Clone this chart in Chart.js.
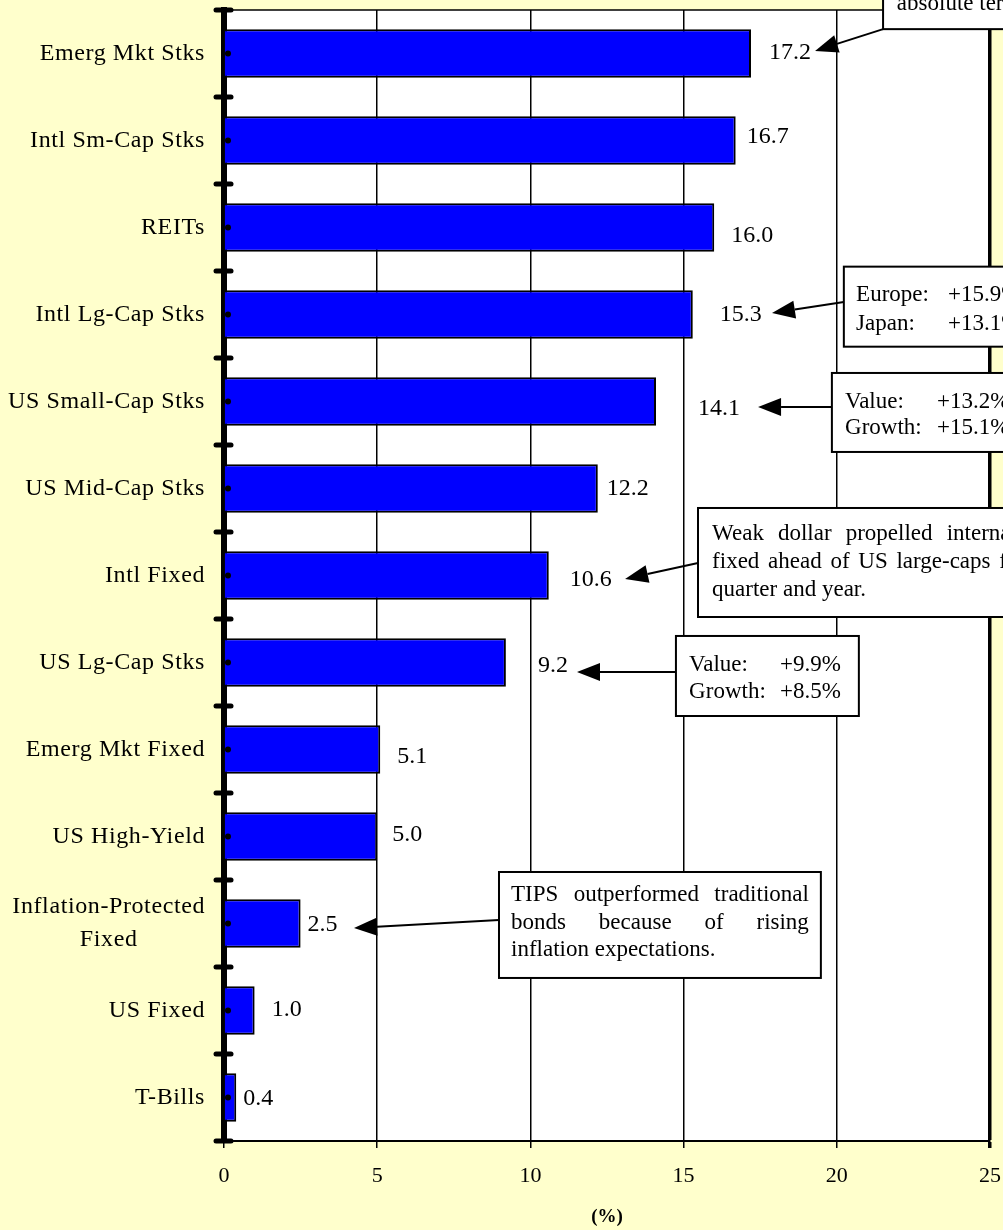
<!DOCTYPE html>
<html>
<head>
<meta charset="utf-8">
<script src="https://cdn.jsdelivr.net/npm/chart.js@4.4.1/dist/chart.umd.min.js"></script>
<style>
  html, body { margin: 0; padding: 0; background: #FFFFCC; }
  #wrap { width: 1003px; height: 1230px; position: relative; }
</style>
</head>
<body>
<div id="wrap"><canvas id="returns"></canvas></div>
<script>
// asset class returns (%), top to bottom
const categories = ['Emerg Mkt Stks', 'Intl Sm-Cap Stks', 'REITs', 'Intl Lg-Cap Stks', 'US Small-Cap Stks',
    'US Mid-Cap Stks', 'Intl Fixed', 'US Lg-Cap Stks', 'Emerg Mkt Fixed', 'US High-Yield',
    ['Inflation-Protected', 'Fixed'], 'US Fixed', 'T-Bills'];
const returns = [17.2, 16.7, 16.0, 15.3, 14.1, 12.2, 10.6, 9.2, 5.1, 5.0, 2.5, 1.0, 0.4];
const xTicks = [0, 5, 10, 15, 20, 25];

// nudges for the value labels, px from the bar end / bar middle
const labelOffsets = [[18, -1], [11, -3.5], [17, 8.5], [27, 0.5], [42, 7.5], [9, 0.5], [21, 4.5],
    [32, 3.5], [17, 7.5], [15, -1.5], [7, 1.5], [17, -0.5], [7, 1.5]];

// callout boxes, in axis units (x = %, y = category index)
const callouts = [
    { box: [21.51, 29.5, -1.2, -0.28], tx: 21.96, ty: -0.569, lines: ['absolute terms'],
      from: [21.51, -0.28], to: [19.29, -0.03] },
    { box: [20.23, 29.5, 2.45, 3.37], tx: 20.63, col: 23.63, ty: 2.776, lh: 29,
      lines: [['Europe:', '+15.9%'], ['Japan:', '+13.1%']], from: [20.23, 2.856], to: [17.885, 2.983] },
    { box: [19.84, 29.5, 3.672, 4.58], tx: 20.27, col: 23.27, ty: 4.006, lh: 26,
      lines: [['Value:', '+13.2%'], ['Growth:', '+15.1%']], from: [19.84, 4.063], to: [17.43, 4.063] },
    { box: [15.47, 27.77, 5.224, 6.477], tx: 15.93, ty: 5.523, lh: 28, justify: true,
      lines: ['Weak dollar propelled international', 'fixed ahead of US large-caps for the', 'quarter and year.'],
      from: [15.47, 5.856], to: [13.09, 6.04] },
    { box: [14.75, 20.72, 6.695, 7.615], tx: 15.18, col: 18.15, ty: 7.029, lh: 27,
      lines: [['Value:', '+9.9%'], ['Growth:', '+8.5%']], from: [14.75, 7.109], to: [11.52, 7.109] },
    { box: [8.975, 19.48, 9.408, 10.626], tx: 9.367, ty: 9.672, lh: 27.5, justify: true,
      lines: ['TIPS outperformed traditional', 'bonds because of rising', 'inflation expectations.'],
      from: [8.975, 9.959], to: [4.243, 10.052] }
];

const SERIF = '"Liberation Serif", "Times New Roman", serif';

function arrow(ctx, x1, y1, x2, y2) {
    const a = Math.atan2(y2 - y1, x2 - x1);
    const len = 23, half = 9;
    const bx = x2 - Math.cos(a) * len, by = y2 - Math.sin(a) * len;
    ctx.beginPath();
    ctx.moveTo(x1, y1);
    ctx.lineTo(bx, by);
    ctx.stroke();
    ctx.beginPath();
    ctx.moveTo(x2, y2);
    ctx.lineTo(bx - Math.sin(a) * half, by + Math.cos(a) * half);
    ctx.lineTo(bx + Math.sin(a) * half, by - Math.cos(a) * half);
    ctx.closePath();
    ctx.fill();
}

const paper = {
    id: 'paper',
    beforeDraw(chart) {
        const { ctx, chartArea: a } = chart;
        ctx.save();
        ctx.fillStyle = '#FFFFCC';
        ctx.fillRect(0, 0, chart.width, chart.height);
        ctx.fillStyle = '#FFFFFF';
        ctx.fillRect(a.left, a.top, a.right - a.left, a.bottom - a.top);
        ctx.restore();
    }
};

const overlay = {
    id: 'overlay',
    afterDraw(chart) {
        const { ctx, chartArea: a } = chart;
        const xs = chart.scales.x, ys = chart.scales.y;
        const X = v => xs.getPixelForValue(v);
        const Y = v => ys.getPixelForValue(v);
        ctx.save();
        ctx.strokeStyle = '#000';
        ctx.fillStyle = '#000';

        // top edge of the plot
        ctx.lineWidth = 1.5;
        ctx.beginPath();
        ctx.moveTo(a.left, a.top);
        ctx.lineTo(a.right, a.top);
        ctx.stroke();

        // category boundary ticks and centre dots on the axis
        ctx.lineCap = 'round';
        ctx.lineWidth = 5;
        for (let i = 0; i <= categories.length; i++) {
            const y = Y(i - 0.5);
            ctx.beginPath();
            ctx.moveTo(a.left - 8, y);
            ctx.lineTo(a.left + 7, y);
            ctx.stroke();
        }
        categories.forEach((c, i) => {
            ctx.beginPath();
            ctx.arc(a.left + 4, Y(i), 3, 0, Math.PI * 2);
            ctx.fill();
        });
        ctx.lineCap = 'butt';

        // category labels
        ctx.font = '24px ' + SERIF;
        ctx.letterSpacing = '0.6px';
        ctx.textBaseline = 'middle';
        const rx = a.left - 19;
        categories.forEach((c, i) => {
            const y = Y(i);
            if (Array.isArray(c)) {
                const w = Math.max(...c.map(s => ctx.measureText(s).width));
                ctx.textAlign = 'center';
                c.forEach((s, k) => ctx.fillText(s, rx - w / 2, y + (k - (c.length - 1) / 2) * 33));
            } else {
                ctx.textAlign = 'right';
                ctx.fillText(c, rx, y);
            }
        });
        ctx.letterSpacing = '0px';

        // value labels
        ctx.font = '24px ' + SERIF;
        ctx.textAlign = 'left';
        chart.getDatasetMeta(0).data.forEach((bar, i) => {
            const [dx, dy] = labelOffsets[i];
            ctx.fillText(returns[i].toFixed(1), bar.x + dx, bar.y + dy);
        });

        // callouts
        ctx.font = '23px ' + SERIF;
        callouts.forEach(c => {
            const x0 = X(c.box[0]), x1 = X(c.box[1]), y0 = Y(c.box[2]), y1 = Y(c.box[3]);
            ctx.lineWidth = 2;
            arrow(ctx, X(c.from[0]), Y(c.from[1]), X(c.to[0]), Y(c.to[1]));
            ctx.fillStyle = '#FFFFFF';
            ctx.fillRect(x0, y0, x1 - x0, y1 - y0);
            ctx.strokeRect(x0, y0, x1 - x0, y1 - y0);
            ctx.fillStyle = '#000';
            const tx = X(c.tx), lh = c.lh || 27;
            c.lines.forEach((line, k) => {
                const y = Y(c.ty) + k * lh;
                if (Array.isArray(line)) {
                    ctx.fillText(line[0], tx, y);
                    ctx.fillText(line[1], X(c.col), y);
                } else if (c.justify && k < c.lines.length - 1) {
                    const words = line.split(' ');
                    const widths = words.map(w => ctx.measureText(w).width);
                    const room = (x1 - 12) - tx;
                    const gap = (room - widths.reduce((s, w) => s + w, 0)) / (words.length - 1);
                    let x = tx;
                    words.forEach((w, j) => { ctx.fillText(w, x, y); x += widths[j] + gap; });
                } else {
                    ctx.fillText(line, tx, y);
                }
            });
        });
        ctx.restore();
    }
};

new Chart(document.getElementById('returns'), {
    type: 'bar',
    data: {
        labels: categories,
        datasets: [{
            data: returns,
            backgroundColor: '#0000FF',
            borderColor: '#000000',
            borderWidth: 2,
            borderSkipped: 'start',
            categoryPercentage: 0.56,
            barPercentage: 1
        }]
    },
    options: {
        indexAxis: 'y',
        responsive: true,
        maintainAspectRatio: false,
        animation: false,
        layout: { padding: { top: 10, right: 13, left: 0, bottom: 0 } },
        plugins: { legend: { display: false }, tooltip: { enabled: false } },
        scales: {
            x: {
                min: 0,
                max: 25,
                afterBuildTicks: s => { s.ticks = xTicks.map(v => ({ value: v })); },
                afterFit: s => { s.height = 89; s.paddingLeft = 0; s.paddingRight = 0; },
                grid: {
                    color: '#000',
                    lineWidth: c => (c.tick && c.tick.value === 25 ? 3.5 : 1.5),
                    tickLength: 7
                },
                border: { color: '#000', width: 2 },
                ticks: { color: '#000', font: { family: SERIF, size: 22 }, padding: 15, maxRotation: 0 },
                title: {
                    display: true,
                    text: '(%)',
                    color: '#000',
                    font: { family: SERIF, size: 19, weight: 'bold' },
                    padding: { top: 0, bottom: 2 }
                }
            },
            y: {
                z: 1,
                afterFit: s => { s.width = 224; },
                grid: { display: false },
                border: { color: '#000', width: 6 },
                ticks: { display: false }
            }
        }
    },
    plugins: [paper, overlay]
});
</script>
</body>
</html>
